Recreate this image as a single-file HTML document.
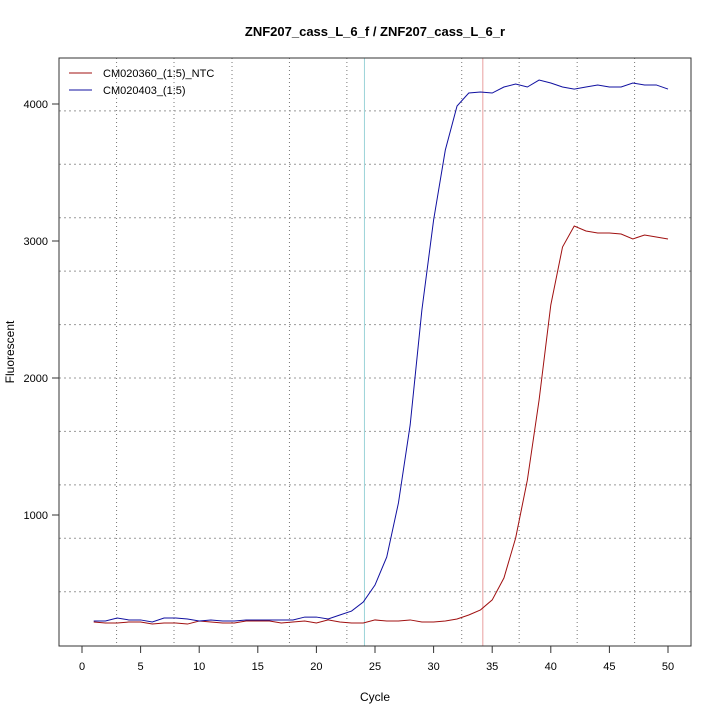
<!DOCTYPE html>
<html><head><meta charset="utf-8"><style>body{margin:0;background:#fff}svg{display:block;font-family:"Liberation Sans",sans-serif}</style></head>
<body>
<svg id="chart" width="720" height="720"></svg>
<script>
const cycles = Array.from({length:50},(_,i)=>i+1);
const ntcValues = [219,212,212,219,219,204,212,212,204,226,219,212,212,226,226,226,212,219,226,212,234,219,212,212,234,226,226,234,219,219,226,241,270,307,380,540,832,1255,1839,2533,2956,3109,3073,3058,3058,3051,3015,3044,3029,3015];
const sampleValues = [226,226,248,234,234,219,248,248,241,226,234,226,226,234,234,234,234,234,255,255,241,270,299,365,489,693,1088,1657,2496,3153,3664,3985,4080,4088,4080,4124,4146,4124,4175,4153,4124,4109,4124,4139,4124,4124,4153,4139,4139,4109];
const xTicks = [0,5,10,15,20,25,30,35,40,45,50];
const yTicks = [1000,2000,3000,4000];
const vGrid = [2.95,7.85,12.8,17.7,22.6,32.4,37.3,42.25,47.15];
const hGrid = [440,830,1220,1610,2000,2390,2780,3170,3560,3950];
const ctVals = [24.1,34.2];
const L=59,R=691,T=58,B=646;
const X=v=>82+v*11.72, Y=v=>652-v*0.137;
const svg=document.getElementById('chart');
const NS='http://www.w3.org/2000/svg';
function el(t,a,txt){const e=document.createElementNS(NS,t);for(const k in a)e.setAttribute(k,a[k]);if(txt!=null)e.textContent=txt;svg.appendChild(e);return e;}
let e;
e=el('text',{x:375,y:36,'text-anchor':'middle','font-size':13,'font-weight':'bold'},'ZNF207_cass_L_6_f / ZNF207_cass_L_6_r');

vGrid.forEach(v=>{e=el('line',{x1:X(v),x2:X(v),y1:T,y2:B,stroke:'#777','stroke-dasharray':'1,3'});
});
hGrid.forEach(v=>{e=el('line',{x1:L,x2:R,y1:Y(v),y2:Y(v),stroke:'#999','stroke-dasharray':'2,3'});
});
e=el('line',{x1:X(ctVals[0]),x2:X(ctVals[0]),y1:T,y2:B,stroke:'#9cd3d8'});

e=el('line',{x1:X(ctVals[1]),x2:X(ctVals[1]),y1:T,y2:B,stroke:'#e8a0a0'});

e=el('polyline',{points:cycles.map((c,i)=>X(c)+','+Y(ntcValues[i])).join(' '),fill:'none',stroke:'#a01010','stroke-width':1});

e=el('polyline',{points:cycles.map((c,i)=>X(c)+','+Y(sampleValues[i])).join(' '),fill:'none',stroke:'#1010a0','stroke-width':1});

e=el('rect',{x:L,y:T,width:R-L,height:B-T,fill:'none',stroke:'#333'});

xTicks.forEach(v=>{e=el('line',{x1:X(v),x2:X(v),y1:B,y2:B+7,stroke:'#333'});

e=el('text',{x:X(v),y:670,'text-anchor':'middle','font-size':11},v);
});
yTicks.forEach(v=>{e=el('line',{x1:L-7,x2:L,y1:Y(v),y2:Y(v),stroke:'#333'});

e=el('text',{x:L-11,y:Y(v)+4,'text-anchor':'end','font-size':11},v);
});
e=el('text',{x:375,y:701,'text-anchor':'middle','font-size':12},'Cycle');

e=el('text',{x:0,y:0,'text-anchor':'middle','font-size':12,transform:'translate(14,352) rotate(-90)'},'Fluorescent');

[['CM020360_(1:5)_NTC','#a01010',73],['CM020403_(1:5)','#1010a0',90]].forEach(([t,c,y])=>{
e=el('line',{x1:69,x2:92,y1:y,y2:y,stroke:c});

e=el('text',{x:103,y:y+4,'font-size':11},t);
});
</script>
</body></html>
